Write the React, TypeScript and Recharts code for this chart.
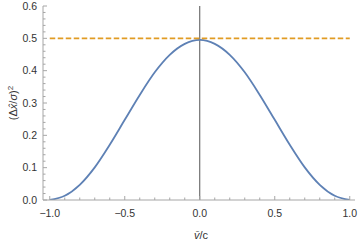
import React from 'react';
import { LineChart, Line, XAxis, YAxis, ReferenceLine, Label } from 'recharts';

// velocity (v̄/c) sample points and the curve
const velocity = [-1.0, -0.9, -0.8, -0.7, -0.6, -0.5, -0.4, -0.3, -0.2, -0.1, 0.0, 0.1, 0.2, 0.3, 0.4, 0.5, 0.6, 0.7, 0.8, 0.9, 1.0];
const spread = [0, 0.013, 0.047, 0.101, 0.171, 0.248, 0.325, 0.395, 0.449, 0.483, 0.495, 0.483, 0.449, 0.395, 0.325, 0.248, 0.171, 0.101, 0.047, 0.013, 0];
const limit = 0.5;

const xMajorTicks = [-1, -0.5, 0, 0.5, 1];
const yMajorTicks = [0, 0.1, 0.2, 0.3, 0.4, 0.5, 0.6];

const xTicks = Array.from({ length: 21 }, (_, i) => Math.round((i - 10) * 10) / 100);
const yTicks = Array.from({ length: 31 }, (_, i) => Math.round(i * 2) / 100);

const data = velocity.map((v, i) => ({ v, dx: spread[i], lim: limit }));

const FRAME = '#a6a6a6';
const TEXT = '#333';
const FONT = '"Liberation Sans", Arial, sans-serif';

const isMajor = (v: number, list: number[]) => list.some((m) => Math.abs(m - v) < 1e-6);
const fmt = (v: number) => (v < 0 ? '\u2212' : '') + Math.abs(v).toFixed(1);

function FrameTick(props: any) {
  const { x, y, payload, side } = props;
  const v = payload.value;
  const major = isMajor(v, side === 'bottom' || side === 'top' ? xMajorTicks : yMajorTicks);
  const len = major ? 4 : 2.5;
  if (side === 'bottom') {
    return (
      <g>
        <line x1={x} y1={y} x2={x} y2={y - len} stroke={FRAME} strokeWidth={1} />
        {major && (
          <text x={x} y={y + 16.5} textAnchor="middle" fontSize={10.5} fill={TEXT} fontFamily={FONT}>
            {fmt(v)}
          </text>
        )}
      </g>
    );
  }
  if (side === 'top') {
    return <line x1={x} y1={y} x2={x} y2={y + len} stroke={FRAME} strokeWidth={1} />;
  }
  if (side === 'left') {
    return (
      <g>
        <line x1={x} y1={y} x2={x + len} y2={y} stroke={FRAME} strokeWidth={1} />
        {major && (
          <text x={x - 6} y={y + 3.8} textAnchor="end" fontSize={10.5} fill={TEXT} fontFamily={FONT}>
            {fmt(v)}
          </text>
        )}
      </g>
    );
  }
  return <line x1={x} y1={y} x2={x - len} y2={y} stroke={FRAME} strokeWidth={1} />;
}

export default function App() {
  return (
    <div style={{ position: 'absolute', left: 0, top: 0, width: 360, height: 241, background: '#fff' }}>
      <LineChart width={360} height={241} data={data} margin={{ top: 6, right: 5, bottom: 0, left: 0 }}>
        <XAxis
          xAxisId="b"
          dataKey="v"
          type="number"
          domain={[-1.045, 1.035]}
          allowDataOverflow
          ticks={xTicks}
          interval={0}
          tickSize={0}
          tickMargin={0}
          height={41}
          axisLine={{ stroke: FRAME }}
          tickLine={false}
          tick={(p: any) => <FrameTick {...p} side="bottom" />}
        >
          <Label
            content={() => (
              <text x={201} y={239} textAnchor="middle" fontSize={11} fill={TEXT} fontFamily={FONT}>
                <tspan fontStyle="italic">{'v\u0304'}</tspan>
                <tspan>/c</tspan>
              </text>
            )}
          />
        </XAxis>
        <XAxis
          xAxisId="t"
          orientation="top"
          dataKey="v"
          type="number"
          domain={[-1.045, 1.035]}
          allowDataOverflow
          ticks={xTicks}
          interval={0}
          tickSize={0}
          tickMargin={0}
          height={0}
          axisLine={{ stroke: FRAME }}
          tickLine={false}
          tick={(p: any) => <FrameTick {...p} side="top" />}
        />
        <YAxis
          yAxisId="l"
          type="number"
          domain={[0, 0.6]}
          allowDataOverflow
          ticks={yTicks}
          interval={0}
          tickSize={0}
          tickMargin={0}
          width={43}
          axisLine={{ stroke: FRAME }}
          tickLine={false}
          tick={(p: any) => <FrameTick {...p} side="left" />}
        >
          <Label
            content={() => (
              <text
                x={17}
                y={103}
                transform="rotate(-90 17 103)"
                textAnchor="middle"
                fontSize={11}
                fill={TEXT}
                fontFamily={FONT}
              >
                <tspan>(Δ</tspan>
                <tspan fontStyle="italic">{'x\u0302'}</tspan>
                <tspan>/</tspan>
                <tspan fontStyle="italic">σ</tspan>
                <tspan>)</tspan>
                <tspan fontSize={8} dy={-4.5}>2</tspan>
              </text>
            )}
          />
        </YAxis>
        <YAxis
          yAxisId="r"
          orientation="right"
          type="number"
          domain={[0, 0.6]}
          allowDataOverflow
          ticks={yTicks}
          interval={0}
          tickSize={0}
          tickMargin={0}
          width={0}
          axisLine={{ stroke: FRAME }}
          tickLine={false}
          tick={(p: any) => <FrameTick {...p} side="right" />}
        />
        <ReferenceLine xAxisId="b" yAxisId="l" x={0} stroke="#555" strokeWidth={1} />
        <Line
          xAxisId="b"
          yAxisId="l"
          dataKey="dx"
          type="monotone"
          stroke="#5e81b5"
          strokeWidth={1.8}
          dot={false}
          isAnimationActive={false}
        />
        <Line
          xAxisId="b"
          yAxisId="l"
          dataKey="lim"
          type="linear"
          stroke="#e19c24"
          strokeWidth={1.8}
          strokeDasharray="5.5 2.5"
          dot={false}
          isAnimationActive={false}
        />
      </LineChart>
    </div>
  );
}
